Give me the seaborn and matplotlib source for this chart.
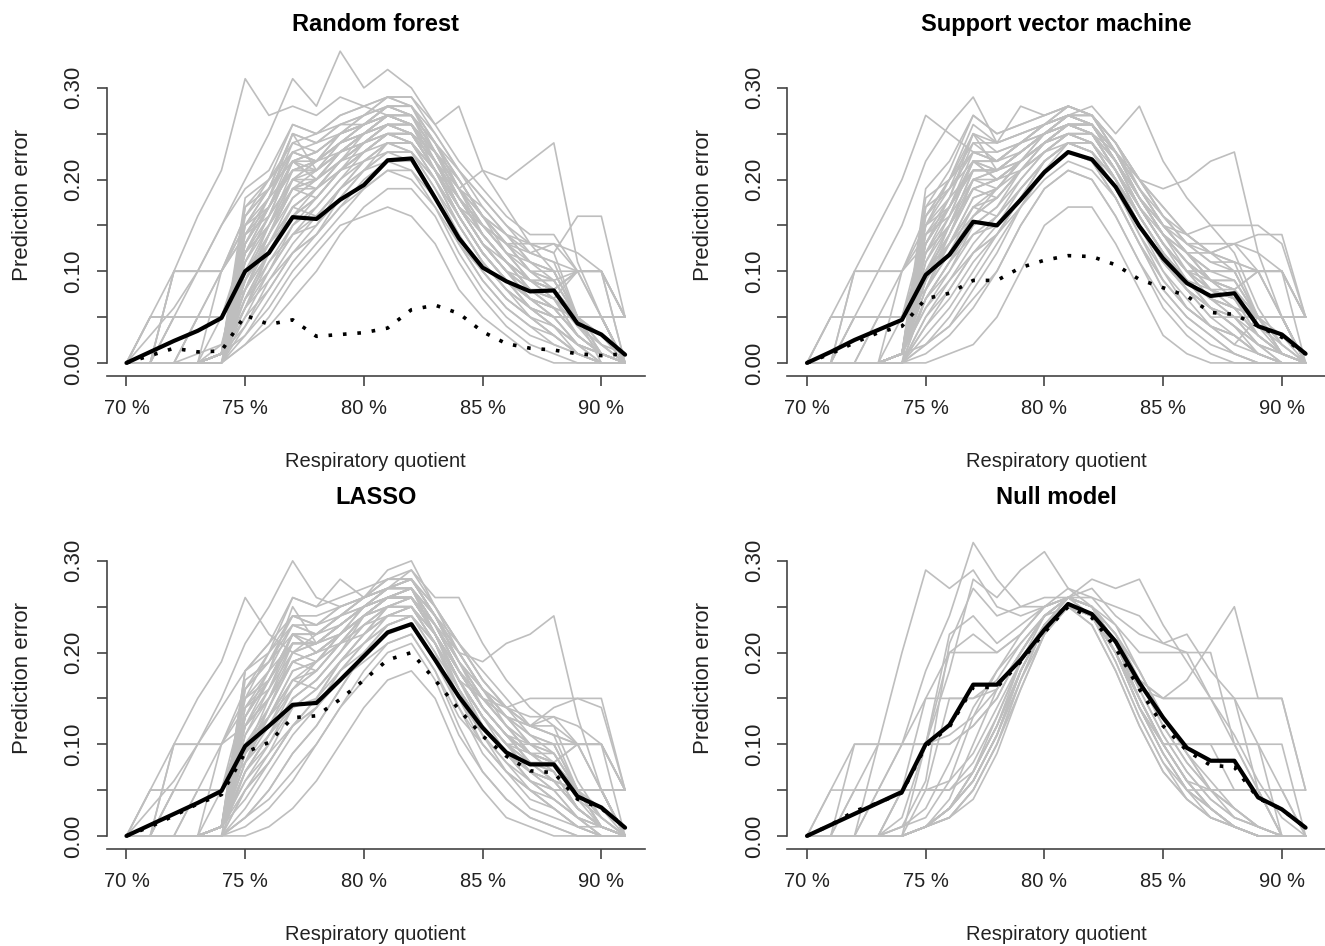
import numpy as np
import pandas as pd
import matplotlib
matplotlib.use("Agg")
import matplotlib.pyplot as plt
import seaborn as sns

# Respiratory quotient grid (%)
RQ = list(range(70, 92))

PANELS = ["Random forest", "Support vector machine", "LASSO", "Null model"]

# Thick black curve per panel
RF_SOLID = [0, 0.012, 0.024, 0.035, 0.049, 0.100, 0.120, 0.159, 0.157, 0.178, 0.194, 0.221, 0.223, 0.180, 0.136, 0.104, 0.089, 0.078, 0.079, 0.043, 0.031, 0.009]
SVM_SOLID = [0, 0.012, 0.025, 0.036, 0.047, 0.096, 0.118, 0.154, 0.150, 0.178, 0.208, 0.230, 0.222, 0.192, 0.149, 0.114, 0.087, 0.073, 0.076, 0.040, 0.031, 0.010]
LASSO_SOLID = [0, 0.012, 0.024, 0.036, 0.049, 0.098, 0.120, 0.143, 0.145, 0.170, 0.196, 0.222, 0.231, 0.192, 0.152, 0.118, 0.091, 0.078, 0.078, 0.043, 0.031, 0.009]
NULL_SOLID = [0, 0.012, 0.024, 0.036, 0.048, 0.100, 0.121, 0.165, 0.165, 0.192, 0.225, 0.253, 0.242, 0.212, 0.167, 0.129, 0.096, 0.082, 0.082, 0.042, 0.029, 0.009]

# Dotted curve per panel
RF_DOTTED = [0, 0.008, 0.016, 0.012, 0.013, 0.052, 0.042, 0.047, 0.029, 0.031, 0.033, 0.038, 0.058, 0.063, 0.054, 0.034, 0.021, 0.016, 0.014, 0.010, 0.008, 0.010]
SVM_DOTTED = [0, 0.010, 0.022, 0.033, 0.040, 0.070, 0.076, 0.090, 0.090, 0.104, 0.112, 0.117, 0.116, 0.107, 0.091, 0.082, 0.073, 0.055, 0.053, 0.040, 0.028, 0.010]
LASSO_DOTTED = [0, 0.010, 0.022, 0.035, 0.045, 0.091, 0.102, 0.129, 0.131, 0.149, 0.170, 0.192, 0.200, 0.170, 0.138, 0.109, 0.087, 0.071, 0.069, 0.040, 0.030, 0.010]
NULL_DOTTED = [0, 0.012, 0.027, 0.036, 0.047, 0.098, 0.119, 0.162, 0.162, 0.190, 0.222, 0.250, 0.238, 0.205, 0.160, 0.120, 0.093, 0.077, 0.075, 0.041, 0.029, 0.009]

# Grey resampling curves, in hundredths of prediction error
RF_GREY = [
    [0, 0, 0, 0, 0, 2, 5, 9, 12, 15, 16, 17, 16, 13, 8, 5, 3, 1, 0, 0, 0, 0],
    [0, 0, 0, 0, 1, 4, 8, 12, 15, 19, 21, 23, 22, 18, 13, 9, 6, 4, 2, 1, 0, 0],
    [0, 0, 0, 0, 1, 6, 11, 15, 18, 21, 23, 25, 24, 20, 15, 11, 8, 5, 3, 1, 0, 0],
    [0, 0, 0, 0, 1, 8, 13, 18, 20, 22, 24, 26, 25, 21, 17, 13, 10, 7, 5, 2, 1, 0],
    [0, 0, 0, 0, 0, 10, 15, 20, 21, 24, 25, 27, 27, 23, 18, 14, 11, 8, 6, 3, 1, 0],
    [0, 0, 0, 1, 2, 12, 16, 22, 22, 24, 26, 28, 28, 24, 19, 15, 12, 9, 8, 5, 2, 1],
    [0, 0, 0, 0, 1, 14, 18, 24, 23, 25, 27, 29, 29, 25, 21, 17, 14, 11, 10, 5, 5, 0],
    [0, 0, 0, 0, 1, 5, 10, 14, 17, 20, 22, 24, 23, 19, 14, 10, 7, 5, 3, 1, 0, 0],
    [0, 0, 0, 0, 1, 7, 12, 17, 19, 22, 24, 26, 26, 21, 16, 12, 9, 6, 4, 2, 1, 0],
    [0, 0, 0, 0, 1, 9, 14, 19, 19, 21, 23, 25, 25, 22, 17, 13, 10, 7, 6, 3, 1, 0],
    [0, 5, 5, 5, 5, 11, 15, 20, 20, 23, 24, 26, 25, 21, 16, 12, 9, 7, 5, 5, 5, 0],
    [0, 0, 10, 10, 10, 15, 19, 25, 24, 26, 26, 28, 27, 22, 17, 13, 10, 8, 7, 10, 10, 0],
    [0, 5, 10, 16, 21, 31, 27, 28, 27, 29, 28, 27, 26, 23, 20, 16, 13, 10, 8, 5, 3, 1],
    [0, 0, 5, 10, 15, 20, 25, 31, 28, 34, 30, 32, 30, 26, 28, 21, 17, 13, 10, 5, 2, 0],
    [0, 0, 0, 0, 2, 8, 14, 19, 20, 23, 25, 27, 27, 23, 19, 21, 20, 22, 24, 11, 5, 0],
    [0, 0, 0, 0, 1, 6, 12, 17, 19, 22, 24, 26, 26, 22, 18, 15, 13, 13, 12, 16, 16, 5],
    [0, 0, 0, 0, 1, 7, 12, 16, 18, 21, 23, 25, 25, 21, 17, 13, 11, 9, 8, 10, 10, 5],
    [0, 5, 5, 5, 5, 9, 13, 17, 19, 22, 24, 26, 25, 21, 16, 12, 9, 6, 4, 1, 0, 0],
    [0, 0, 10, 10, 10, 14, 18, 23, 22, 25, 26, 27, 26, 22, 17, 13, 10, 7, 5, 2, 1, 0],
    [0, 3, 6, 10, 15, 19, 21, 26, 25, 27, 28, 29, 28, 23, 19, 15, 12, 9, 7, 4, 2, 0],
    [0, 0, 5, 5, 5, 10, 14, 19, 21, 23, 25, 27, 26, 22, 18, 14, 11, 9, 9, 10, 10, 5],
    [0, 0, 0, 5, 5, 8, 12, 16, 18, 21, 23, 25, 24, 20, 15, 11, 8, 6, 5, 5, 5, 5],
    [0, 0, 0, 0, 5, 12, 17, 21, 22, 25, 26, 28, 27, 23, 18, 14, 11, 8, 6, 3, 1, 0],
    [0, 0, 0, 0, 0, 3, 7, 11, 14, 17, 20, 22, 21, 17, 12, 8, 5, 3, 2, 1, 0, 0],
    [0, 0, 0, 0, 1, 11, 16, 20, 22, 24, 26, 27, 27, 24, 20, 16, 13, 10, 9, 5, 5, 5],
    [0, 0, 0, 0, 1, 13, 17, 23, 22, 24, 25, 27, 26, 22, 18, 15, 12, 11, 10, 10, 10, 5],
    [0, 0, 0, 0, 0, 4, 9, 13, 16, 19, 22, 23, 23, 19, 15, 11, 8, 6, 4, 2, 1, 0],
    [0, 0, 0, 0, 1, 15, 19, 25, 24, 26, 27, 28, 28, 25, 21, 18, 15, 13, 12, 5, 5, 0],
    [0, 0, 0, 0, 0, 6, 10, 15, 17, 20, 23, 25, 24, 21, 16, 12, 9, 6, 5, 5, 5, 0],
    [0, 0, 0, 0, 1, 17, 20, 26, 25, 27, 28, 29, 29, 26, 22, 19, 16, 14, 14, 10, 5, 0],
    [0, 0, 0, 0, 0, 8, 12, 16, 18, 21, 24, 25, 25, 22, 17, 14, 11, 9, 8, 5, 0, 0],
    [0, 0, 0, 5, 10, 16, 19, 22, 23, 25, 26, 27, 26, 22, 18, 14, 11, 8, 7, 5, 5, 0],
    [0, 0, 0, 0, 1, 3, 6, 10, 13, 16, 19, 21, 21, 18, 13, 9, 6, 4, 3, 1, 0, 0],
    [0, 0, 0, 0, 1, 9, 14, 18, 20, 23, 25, 26, 25, 22, 19, 17, 14, 11, 9, 5, 1, 0],
    [0, 0, 0, 0, 1, 10, 13, 17, 16, 19, 21, 24, 24, 21, 16, 12, 9, 6, 5, 2, 0, 0],
    [0, 0, 0, 0, 0, 7, 11, 14, 15, 18, 21, 22, 22, 18, 14, 10, 7, 5, 3, 1, 0, 0],
    [0, 0, 0, 0, 1, 12, 15, 19, 18, 21, 23, 25, 24, 21, 18, 14, 11, 9, 8, 4, 2, 0],
    [0, 0, 0, 0, 1, 15, 17, 21, 21, 23, 25, 26, 26, 23, 20, 16, 13, 10, 9, 5, 3, 0],
    [0, 0, 0, 0, 1, 18, 20, 23, 22, 24, 26, 28, 27, 24, 21, 18, 15, 12, 11, 5, 5, 0],
    [0, 0, 0, 0, 0, 13, 17, 22, 20, 22, 23, 24, 24, 21, 17, 13, 10, 8, 7, 3, 1, 0],
    [0, 0, 0, 0, 1, 16, 19, 23, 24, 25, 26, 27, 26, 22, 17, 13, 10, 8, 8, 5, 1, 0],
    [0, 0, 0, 0, 1, 9, 15, 21, 22, 24, 25, 26, 25, 21, 17, 15, 13, 12, 13, 10, 10, 0],
    [0, 0, 0, 0, 1, 11, 16, 22, 20, 23, 25, 27, 26, 22, 18, 15, 12, 10, 10, 5, 5, 5],
    [0, 0, 0, 0, 1, 6, 9, 12, 14, 17, 19, 21, 20, 17, 13, 10, 7, 5, 4, 2, 0, 0],
    [0, 0, 0, 0, 0, 2, 4, 7, 10, 14, 17, 19, 19, 16, 11, 7, 4, 2, 1, 0, 0, 0],
    [0, 0, 0, 0, 1, 8, 14, 20, 22, 23, 24, 25, 25, 23, 19, 16, 14, 12, 11, 10, 5, 0],
    [0, 5, 5, 5, 5, 13, 17, 22, 21, 24, 26, 27, 26, 22, 17, 13, 10, 9, 9, 5, 5, 0],
    [0, 0, 10, 10, 10, 16, 20, 24, 25, 26, 27, 29, 28, 24, 19, 14, 11, 9, 8, 10, 10, 5],
    [0, 0, 0, 5, 5, 12, 15, 19, 20, 22, 24, 25, 25, 21, 17, 13, 10, 8, 6, 5, 5, 0],
    [0, 0, 0, 0, 10, 14, 17, 21, 21, 23, 25, 27, 27, 24, 20, 16, 12, 9, 7, 3, 1, 0],
    [0, 0, 0, 0, 1, 10, 13, 16, 19, 22, 25, 27, 26, 23, 19, 15, 13, 11, 10, 5, 1, 0],
    [0, 0, 0, 0, 1, 14, 16, 20, 19, 21, 22, 24, 23, 20, 16, 12, 9, 7, 6, 3, 1, 0],
    [0, 0, 0, 0, 0, 5, 8, 12, 14, 18, 21, 23, 23, 20, 16, 12, 9, 7, 6, 5, 5, 0],
    [0, 0, 0, 0, 1, 12, 17, 22, 23, 25, 27, 28, 27, 23, 19, 16, 14, 13, 13, 12, 10, 5],
    [0, 0, 0, 0, 1, 17, 19, 22, 23, 25, 26, 28, 28, 24, 20, 16, 13, 10, 8, 4, 1, 0],
    [0, 0, 0, 0, 1, 7, 10, 14, 16, 19, 22, 24, 24, 20, 15, 11, 8, 6, 4, 2, 1, 0],
    [0, 0, 5, 5, 10, 15, 18, 21, 22, 24, 25, 26, 26, 23, 18, 14, 11, 9, 8, 10, 10, 5],
    [0, 0, 0, 0, 1, 13, 18, 25, 21, 23, 24, 26, 25, 21, 16, 12, 9, 7, 6, 3, 1, 0],
]

SVM_GREY = [
    [0, 0, 0, 0, 0, 0, 1, 2, 5, 10, 15, 17, 17, 13, 8, 3, 1, 0, 0, 0, 0, 0],
    [0, 0, 0, 0, 0, 1, 3, 6, 10, 15, 19, 21, 20, 16, 11, 6, 3, 1, 0, 0, 0, 0],
    [0, 0, 0, 0, 0, 2, 5, 9, 13, 17, 21, 23, 22, 18, 13, 8, 5, 3, 1, 0, 0, 0],
    [0, 0, 0, 0, 0, 4, 8, 12, 15, 19, 22, 24, 23, 19, 14, 10, 6, 4, 2, 1, 0, 0],
    [0, 0, 0, 0, 1, 6, 10, 15, 17, 20, 23, 25, 24, 20, 15, 11, 8, 5, 3, 1, 0, 0],
    [0, 0, 0, 0, 1, 8, 12, 17, 18, 21, 24, 26, 25, 21, 16, 12, 9, 6, 4, 2, 1, 0],
    [0, 0, 0, 0, 1, 10, 14, 20, 20, 22, 25, 27, 26, 22, 17, 13, 10, 7, 6, 3, 1, 0],
    [0, 0, 0, 0, 1, 12, 16, 22, 21, 23, 25, 27, 26, 23, 18, 14, 11, 8, 7, 5, 1, 0],
    [0, 0, 0, 0, 1, 14, 18, 24, 22, 24, 26, 27, 27, 24, 19, 15, 12, 9, 9, 5, 5, 0],
    [0, 0, 0, 0, 1, 16, 20, 26, 24, 25, 26, 28, 27, 24, 20, 16, 13, 11, 11, 10, 5, 0],
    [0, 0, 0, 0, 0, 5, 9, 13, 16, 20, 23, 25, 24, 20, 15, 10, 7, 4, 3, 1, 0, 0],
    [0, 0, 0, 0, 0, 7, 11, 16, 18, 21, 24, 26, 25, 21, 16, 12, 8, 6, 4, 2, 0, 0],
    [0, 0, 0, 0, 1, 9, 13, 18, 19, 22, 24, 26, 25, 22, 17, 13, 9, 7, 5, 5, 5, 0],
    [0, 0, 0, 0, 1, 11, 15, 21, 21, 23, 25, 26, 26, 23, 18, 14, 10, 8, 7, 5, 5, 5],
    [0, 5, 5, 5, 5, 10, 14, 19, 20, 22, 24, 26, 25, 21, 16, 12, 9, 6, 5, 5, 5, 0],
    [0, 0, 10, 10, 10, 13, 17, 22, 22, 24, 25, 27, 26, 22, 17, 13, 10, 10, 10, 10, 10, 5],
    [0, 5, 10, 15, 20, 27, 25, 23, 22, 24, 26, 27, 26, 22, 17, 13, 10, 7, 5, 2, 1, 0],
    [0, 0, 5, 10, 15, 22, 26, 29, 24, 25, 26, 28, 27, 23, 18, 14, 11, 8, 6, 3, 1, 0],
    [0, 0, 0, 0, 5, 15, 20, 25, 24, 28, 27, 28, 27, 24, 20, 17, 14, 12, 10, 5, 2, 0],
    [0, 0, 0, 0, 1, 10, 15, 20, 21, 23, 25, 27, 28, 25, 28, 22, 18, 15, 12, 6, 2, 0],
    [0, 0, 0, 0, 1, 8, 13, 18, 19, 22, 24, 26, 26, 23, 20, 19, 20, 22, 23, 12, 5, 0],
    [0, 0, 0, 0, 1, 9, 14, 19, 20, 22, 24, 26, 25, 22, 18, 15, 14, 15, 15, 15, 13, 5],
    [0, 0, 0, 5, 5, 9, 13, 17, 19, 22, 24, 26, 25, 21, 17, 13, 10, 10, 10, 10, 10, 5],
    [0, 0, 5, 5, 5, 8, 12, 16, 18, 21, 23, 25, 24, 20, 15, 11, 8, 5, 5, 5, 5, 5],
    [0, 0, 0, 0, 0, 3, 6, 10, 14, 18, 22, 24, 23, 19, 14, 9, 6, 4, 2, 5, 5, 0],
    [0, 0, 0, 0, 1, 13, 17, 23, 22, 24, 26, 27, 26, 22, 18, 14, 11, 9, 8, 5, 1, 0],
    [0, 0, 0, 0, 1, 15, 19, 25, 23, 24, 26, 28, 27, 23, 19, 15, 12, 10, 10, 10, 5, 0],
    [0, 0, 0, 0, 1, 17, 21, 27, 25, 26, 27, 28, 27, 24, 20, 16, 13, 11, 10, 5, 1, 0],
    [0, 0, 0, 0, 0, 4, 7, 11, 14, 18, 22, 24, 23, 20, 16, 12, 9, 6, 4, 1, 0, 0],
    [0, 0, 0, 0, 1, 7, 11, 15, 17, 21, 24, 25, 25, 22, 18, 14, 11, 8, 7, 3, 1, 0],
    [0, 0, 0, 0, 1, 2, 4, 8, 12, 17, 21, 23, 22, 18, 13, 8, 5, 3, 1, 0, 0, 0],
    [0, 0, 0, 0, 1, 19, 22, 27, 25, 26, 27, 28, 27, 24, 20, 16, 13, 12, 13, 14, 14, 5],
    [0, 0, 0, 0, 1, 10, 13, 17, 16, 19, 22, 24, 24, 20, 15, 11, 8, 6, 5, 2, 0, 0],
    [0, 0, 0, 0, 0, 7, 11, 14, 15, 18, 21, 23, 22, 18, 13, 9, 6, 4, 3, 1, 0, 0],
    [0, 0, 0, 0, 1, 12, 15, 19, 18, 21, 23, 25, 24, 21, 17, 13, 10, 8, 7, 4, 2, 0],
    [0, 0, 0, 0, 1, 15, 17, 21, 21, 23, 25, 26, 26, 23, 19, 15, 12, 9, 8, 5, 3, 0],
    [0, 0, 0, 0, 1, 18, 20, 23, 22, 23, 25, 27, 26, 23, 20, 17, 14, 12, 11, 5, 5, 0],
    [0, 0, 0, 0, 0, 13, 17, 22, 20, 21, 23, 25, 24, 20, 16, 12, 9, 7, 6, 3, 1, 0],
    [0, 0, 0, 0, 1, 16, 19, 23, 23, 24, 25, 26, 25, 21, 16, 12, 9, 8, 8, 5, 1, 0],
    [0, 0, 0, 0, 1, 9, 15, 21, 21, 23, 25, 26, 25, 21, 17, 14, 12, 12, 13, 10, 10, 0],
    [0, 0, 0, 0, 1, 11, 16, 22, 20, 22, 24, 26, 26, 22, 18, 15, 12, 10, 10, 5, 5, 5],
    [0, 0, 0, 0, 1, 6, 9, 12, 14, 17, 20, 22, 21, 18, 13, 9, 6, 4, 3, 1, 0, 0],
    [0, 0, 0, 0, 0, 2, 4, 7, 10, 15, 19, 21, 20, 16, 11, 7, 4, 2, 1, 0, 0, 0],
    [0, 0, 0, 0, 1, 8, 14, 20, 21, 22, 24, 25, 25, 23, 19, 16, 14, 12, 11, 10, 5, 0],
    [0, 5, 5, 5, 5, 13, 17, 22, 21, 23, 25, 27, 26, 22, 17, 13, 10, 9, 9, 5, 5, 0],
    [0, 0, 10, 10, 10, 16, 20, 24, 24, 25, 26, 27, 27, 23, 18, 14, 11, 9, 8, 10, 10, 5],
    [0, 0, 0, 5, 5, 12, 15, 19, 20, 22, 24, 25, 25, 21, 17, 13, 10, 8, 6, 5, 5, 0],
    [0, 0, 0, 0, 10, 14, 17, 21, 21, 23, 25, 27, 26, 23, 19, 15, 12, 9, 7, 3, 1, 0],
    [0, 0, 0, 0, 1, 10, 13, 16, 19, 22, 25, 26, 26, 22, 18, 14, 12, 10, 9, 5, 1, 0],
    [0, 0, 0, 0, 1, 14, 16, 20, 19, 21, 23, 24, 23, 20, 15, 11, 8, 6, 5, 3, 1, 0],
    [0, 0, 0, 0, 0, 5, 8, 12, 14, 18, 21, 24, 23, 20, 16, 12, 9, 7, 6, 5, 5, 0],
    [0, 0, 0, 0, 1, 12, 17, 22, 22, 24, 26, 27, 26, 22, 18, 15, 13, 13, 13, 12, 10, 5],
    [0, 0, 0, 0, 1, 17, 19, 22, 22, 24, 26, 27, 27, 23, 19, 15, 12, 9, 7, 4, 1, 0],
    [0, 0, 0, 0, 1, 7, 10, 14, 16, 19, 22, 24, 24, 20, 15, 11, 8, 6, 4, 2, 1, 0],
    [0, 0, 5, 5, 10, 15, 18, 21, 21, 23, 25, 26, 26, 22, 18, 14, 11, 9, 8, 10, 10, 5],
    [0, 0, 0, 0, 1, 13, 18, 25, 21, 22, 24, 26, 25, 21, 16, 12, 9, 7, 6, 3, 1, 0],
]

LASSO_GREY = [
    [0, 0, 0, 0, 0, 0, 1, 3, 6, 10, 14, 17, 18, 15, 9, 5, 2, 1, 0, 0, 0, 0],
    [0, 0, 0, 0, 0, 1, 3, 6, 10, 14, 18, 21, 22, 18, 12, 7, 4, 2, 1, 0, 0, 0],
    [0, 0, 0, 0, 0, 2, 5, 9, 12, 16, 20, 23, 24, 20, 14, 9, 6, 3, 2, 1, 0, 0],
    [0, 0, 0, 0, 1, 4, 8, 12, 15, 19, 22, 25, 25, 21, 16, 11, 8, 5, 3, 1, 0, 0],
    [0, 0, 0, 0, 1, 6, 10, 15, 17, 20, 23, 25, 26, 22, 17, 13, 9, 6, 4, 2, 1, 0],
    [0, 0, 0, 0, 1, 8, 12, 17, 18, 21, 24, 26, 27, 23, 18, 14, 11, 8, 6, 3, 1, 0],
    [0, 0, 0, 0, 1, 10, 14, 19, 20, 22, 25, 27, 27, 24, 19, 15, 12, 9, 8, 5, 1, 0],
    [0, 0, 0, 0, 1, 12, 16, 21, 21, 23, 25, 27, 28, 24, 20, 16, 13, 11, 10, 5, 5, 0],
    [0, 0, 0, 0, 1, 14, 18, 23, 22, 24, 26, 28, 28, 25, 21, 17, 14, 12, 12, 10, 5, 0],
    [0, 0, 0, 0, 0, 3, 7, 11, 14, 18, 21, 24, 25, 21, 15, 10, 7, 4, 3, 1, 0, 0],
    [0, 0, 0, 0, 0, 5, 9, 14, 16, 19, 22, 25, 25, 22, 17, 12, 9, 6, 4, 2, 0, 0],
    [0, 0, 0, 0, 1, 7, 11, 16, 18, 21, 24, 26, 26, 22, 17, 13, 10, 7, 6, 5, 5, 0],
    [0, 0, 0, 0, 1, 9, 13, 18, 19, 22, 24, 26, 27, 23, 18, 14, 11, 9, 8, 5, 5, 5],
    [0, 5, 5, 5, 5, 9, 13, 17, 19, 21, 24, 26, 26, 22, 17, 13, 10, 7, 5, 5, 5, 0],
    [0, 0, 10, 10, 10, 12, 15, 19, 20, 22, 24, 26, 26, 22, 18, 14, 11, 10, 10, 10, 10, 5],
    [0, 5, 10, 15, 19, 26, 22, 20, 22, 24, 25, 27, 27, 23, 18, 14, 11, 8, 6, 3, 1, 0],
    [0, 0, 5, 10, 15, 21, 25, 30, 26, 25, 26, 27, 28, 24, 19, 15, 12, 9, 7, 3, 1, 0],
    [0, 0, 0, 0, 5, 15, 20, 26, 25, 28, 26, 29, 30, 25, 21, 17, 14, 11, 9, 5, 2, 0],
    [0, 0, 0, 0, 1, 11, 15, 20, 21, 23, 25, 27, 29, 26, 26, 21, 17, 14, 12, 6, 2, 0],
    [0, 0, 0, 0, 1, 8, 13, 18, 19, 22, 24, 26, 26, 23, 20, 19, 21, 22, 24, 13, 5, 0],
    [0, 0, 0, 0, 1, 9, 14, 19, 20, 22, 24, 26, 26, 22, 18, 15, 14, 15, 15, 15, 15, 5],
    [0, 0, 0, 5, 5, 9, 12, 16, 18, 21, 24, 26, 26, 22, 17, 13, 10, 10, 10, 10, 10, 5],
    [0, 0, 5, 5, 5, 8, 11, 15, 17, 20, 23, 25, 25, 21, 16, 12, 9, 6, 5, 5, 5, 5],
    [0, 0, 0, 0, 0, 2, 5, 9, 12, 16, 20, 23, 24, 21, 16, 11, 7, 5, 3, 1, 1, 0],
    [0, 0, 0, 0, 1, 13, 17, 22, 22, 24, 26, 27, 28, 24, 19, 15, 12, 10, 9, 5, 1, 0],
    [0, 0, 0, 0, 1, 16, 19, 24, 23, 25, 26, 28, 28, 25, 20, 16, 13, 12, 11, 10, 5, 0],
    [0, 0, 0, 0, 1, 5, 8, 12, 15, 19, 22, 24, 25, 22, 17, 13, 10, 7, 5, 2, 1, 0],
    [0, 0, 0, 0, 1, 7, 11, 15, 17, 20, 24, 25, 26, 23, 18, 14, 11, 8, 7, 3, 1, 0],
    [0, 3, 6, 10, 14, 18, 21, 24, 23, 25, 26, 27, 27, 23, 18, 14, 11, 9, 8, 5, 2, 0],
    [0, 0, 0, 0, 1, 18, 21, 26, 25, 26, 27, 28, 29, 25, 21, 17, 14, 12, 14, 15, 14, 5],
    [0, 0, 0, 0, 1, 10, 13, 17, 16, 19, 21, 23, 24, 21, 16, 12, 9, 6, 5, 2, 0, 0],
    [0, 0, 0, 0, 0, 7, 11, 14, 15, 18, 20, 22, 23, 19, 14, 10, 7, 5, 3, 1, 0, 0],
    [0, 0, 0, 0, 1, 12, 15, 19, 18, 21, 23, 25, 25, 22, 18, 14, 11, 9, 8, 4, 2, 0],
    [0, 0, 0, 0, 1, 15, 17, 21, 21, 23, 25, 26, 27, 24, 20, 16, 13, 10, 9, 5, 3, 0],
    [0, 0, 0, 0, 1, 18, 20, 23, 22, 23, 25, 27, 28, 24, 21, 18, 15, 12, 11, 5, 5, 0],
    [0, 0, 0, 0, 0, 13, 17, 22, 20, 21, 23, 24, 25, 21, 17, 13, 10, 8, 7, 3, 1, 0],
    [0, 0, 0, 0, 1, 16, 19, 23, 23, 24, 25, 26, 27, 22, 17, 13, 10, 8, 8, 5, 1, 0],
    [0, 0, 0, 0, 1, 9, 15, 21, 21, 23, 25, 26, 26, 22, 17, 15, 13, 12, 13, 10, 10, 0],
    [0, 0, 0, 0, 1, 11, 16, 22, 20, 22, 24, 26, 27, 22, 18, 15, 12, 10, 10, 5, 5, 5],
    [0, 0, 0, 0, 1, 6, 9, 12, 14, 17, 19, 21, 22, 18, 13, 10, 7, 5, 4, 2, 0, 0],
    [0, 0, 0, 0, 0, 2, 4, 7, 10, 14, 17, 20, 21, 17, 11, 7, 4, 2, 1, 0, 0, 0],
    [0, 0, 0, 0, 1, 8, 14, 20, 21, 22, 24, 25, 26, 23, 19, 16, 14, 12, 11, 10, 5, 0],
    [0, 5, 5, 5, 5, 13, 17, 22, 21, 23, 25, 27, 27, 22, 17, 13, 10, 9, 9, 5, 5, 0],
    [0, 0, 10, 10, 10, 16, 20, 24, 24, 25, 26, 28, 28, 24, 19, 14, 11, 9, 8, 10, 10, 5],
    [0, 0, 0, 5, 5, 12, 15, 19, 20, 22, 24, 25, 26, 22, 17, 13, 10, 8, 6, 5, 5, 0],
    [0, 0, 0, 0, 10, 14, 17, 21, 21, 23, 25, 27, 27, 24, 20, 16, 12, 9, 7, 3, 1, 0],
    [0, 0, 0, 0, 1, 10, 13, 16, 19, 22, 25, 26, 27, 23, 19, 15, 13, 11, 10, 5, 1, 0],
    [0, 0, 0, 0, 1, 14, 16, 20, 19, 21, 22, 24, 24, 20, 16, 12, 9, 7, 6, 3, 1, 0],
    [0, 0, 0, 0, 0, 5, 8, 12, 14, 18, 21, 23, 24, 21, 16, 12, 9, 7, 6, 5, 5, 0],
    [0, 0, 0, 0, 1, 12, 17, 22, 22, 24, 26, 27, 28, 24, 19, 16, 14, 13, 13, 12, 10, 5],
    [0, 0, 0, 0, 1, 17, 19, 22, 22, 24, 26, 27, 28, 24, 20, 16, 13, 10, 8, 4, 1, 0],
    [0, 0, 0, 0, 1, 7, 10, 14, 16, 19, 22, 24, 25, 21, 15, 11, 8, 6, 4, 2, 1, 0],
    [0, 0, 5, 5, 10, 15, 18, 21, 21, 23, 25, 26, 27, 23, 18, 14, 11, 9, 8, 10, 10, 5],
    [0, 0, 0, 0, 1, 13, 18, 25, 21, 22, 24, 26, 26, 22, 16, 12, 9, 7, 6, 3, 1, 0],
]

NULL_GREY = [
    [0, 0, 0, 0, 0, 1, 2, 4, 9, 16, 22, 25, 24, 19, 13, 8, 4, 2, 1, 0, 0, 0],
    [0, 0, 0, 0, 0, 1, 3, 6, 11, 18, 23, 25, 23, 18, 12, 7, 4, 2, 1, 0, 0, 0],
    [0, 0, 0, 0, 0, 1, 3, 7, 13, 19, 23, 25, 24, 20, 14, 9, 5, 3, 1, 0, 0, 0],
    [0, 0, 0, 0, 0, 1, 2, 5, 10, 17, 23, 26, 25, 21, 15, 10, 6, 3, 1, 0, 0, 0],
    [0, 0, 0, 0, 0, 1, 4, 10, 16, 20, 24, 26, 25, 22, 17, 12, 8, 5, 2, 1, 0, 0],
    [0, 0, 0, 0, 1, 2, 6, 13, 18, 22, 25, 27, 26, 23, 18, 13, 9, 6, 3, 1, 0, 0],
    [0, 5, 5, 5, 5, 5, 6, 9, 14, 19, 23, 25, 24, 20, 14, 9, 5, 3, 1, 0, 0, 0],
    [0, 0, 10, 10, 10, 10, 10, 12, 15, 20, 24, 26, 24, 20, 14, 9, 5, 3, 1, 0, 0, 0],
    [0, 0, 0, 5, 10, 15, 15, 15, 17, 21, 24, 26, 25, 21, 15, 10, 6, 3, 1, 0, 0, 0],
    [0, 0, 0, 0, 5, 15, 20, 20, 20, 22, 25, 26, 25, 21, 16, 11, 7, 4, 2, 1, 0, 0],
    [0, 0, 0, 0, 2, 10, 22, 24, 21, 23, 25, 26, 25, 22, 18, 13, 9, 5, 3, 1, 0, 0],
    [0, 0, 5, 10, 20, 29, 27, 29, 25, 24, 25, 26, 24, 20, 15, 10, 6, 3, 1, 0, 0, 0],
    [0, 0, 0, 5, 10, 18, 24, 32, 28, 25, 26, 26, 25, 21, 15, 10, 6, 3, 1, 0, 0, 0],
    [0, 0, 0, 0, 5, 10, 18, 28, 26, 29, 31, 27, 25, 21, 15, 10, 6, 3, 1, 0, 0, 0],
    [0, 0, 0, 0, 0, 1, 3, 6, 11, 18, 23, 25, 24, 19, 13, 8, 5, 5, 5, 5, 5, 5],
    [0, 0, 0, 0, 0, 1, 3, 6, 11, 17, 23, 25, 24, 20, 14, 10, 10, 10, 10, 10, 10, 0],
    [0, 0, 0, 0, 0, 1, 3, 7, 12, 18, 23, 25, 24, 21, 17, 15, 15, 15, 15, 15, 15, 5],
    [0, 0, 0, 0, 0, 1, 3, 7, 12, 18, 23, 26, 27, 24, 22, 21, 22, 18, 15, 10, 5, 0],
    [0, 0, 0, 0, 0, 1, 3, 6, 11, 18, 23, 26, 28, 27, 28, 23, 19, 15, 11, 6, 2, 0],
    [0, 0, 0, 0, 0, 1, 3, 6, 11, 18, 23, 25, 24, 21, 17, 15, 17, 21, 25, 15, 15, 5],
    [0, 0, 0, 0, 0, 1, 2, 5, 10, 16, 22, 25, 23, 18, 12, 7, 4, 2, 1, 0, 0, 0],
    [0, 5, 10, 10, 10, 10, 11, 13, 16, 20, 24, 25, 24, 20, 14, 10, 10, 10, 5, 5, 0, 0],
    [0, 0, 0, 0, 0, 1, 2, 5, 10, 17, 22, 25, 24, 20, 14, 9, 5, 2, 1, 0, 0, 0],
    [0, 0, 0, 0, 1, 3, 8, 14, 18, 21, 24, 26, 25, 22, 17, 12, 8, 5, 3, 1, 0, 0],
    [0, 0, 5, 5, 5, 5, 5, 7, 12, 18, 23, 25, 24, 20, 15, 10, 6, 5, 5, 5, 5, 0],
    [0, 0, 0, 0, 5, 5, 5, 8, 13, 19, 23, 25, 24, 21, 16, 11, 7, 4, 2, 1, 0, 0],
    [0, 0, 0, 10, 10, 10, 10, 12, 15, 20, 24, 26, 25, 20, 15, 10, 10, 10, 10, 10, 0, 0],
    [0, 0, 0, 0, 0, 5, 15, 15, 16, 20, 24, 26, 25, 21, 16, 15, 15, 15, 15, 5, 0, 0],
    [0, 0, 0, 0, 0, 10, 20, 22, 20, 22, 25, 26, 25, 23, 20, 20, 20, 20, 10, 5, 0, 0],
    [0, 0, 0, 0, 0, 1, 3, 7, 12, 19, 24, 26, 26, 25, 24, 21, 20, 15, 10, 5, 0, 0],
    [0, 0, 0, 0, 1, 6, 21, 27, 24, 25, 25, 26, 25, 22, 18, 13, 9, 5, 3, 1, 0, 0],
]

SOLID = [RF_SOLID, SVM_SOLID, LASSO_SOLID, NULL_SOLID]
DOTTED = [RF_DOTTED, SVM_DOTTED, LASSO_DOTTED, NULL_DOTTED]
GREY = [RF_GREY, SVM_GREY, LASSO_GREY, NULL_GREY]

sns.set_style("white")
plt.rcParams["font.family"] = ["Liberation Sans", "DejaVu Sans"]

TXT = "#222222"
AXC = "#444444"

fig = plt.figure(figsize=(13.25, 9.46), dpi=100)

# axes boxes in figure fraction (left, bottom, width, height)
boxes = [
    (0.0804, 0.603, 0.4064, 0.3611),
    (0.5940, 0.603, 0.4064, 0.3611),
    (0.0804, 0.103, 0.4064, 0.3611),
    (0.5940, 0.103, 0.4064, 0.3611),
]

for i, name in enumerate(PANELS):
    ax = fig.add_axes(boxes[i])

    rows = []
    for k, curve in enumerate(GREY[i]):
        for x, v in zip(RQ, curve):
            rows.append({"rq": x, "err": v / 100, "run": k})
    grey_df = pd.DataFrame(rows)

    sns.lineplot(data=grey_df, x="rq", y="err", units="run", estimator=None,
                 color="#BEBEBE", linewidth=1.2, ax=ax, legend=False)

    line_df = pd.DataFrame({"rq": RQ, "solid": SOLID[i], "dotted": DOTTED[i]})
    sns.lineplot(data=line_df, x="rq", y="dotted", color="black", linewidth=2.6,
                 linestyle=(0, (1, 3)), ax=ax)
    sns.lineplot(data=line_df, x="rq", y="solid", color="black", linewidth=3.0, ax=ax)

    ax.set_xlim(69.16, 91.84)
    ax.set_ylim(-0.0138, 0.3588)

    ax.set_xticks([70, 75, 80, 85, 90])
    ax.set_xticklabels(["70 %", "75 %", "80 %", "85 %", "90 %"])
    ax.set_yticks([0, 0.05, 0.10, 0.15, 0.20, 0.25, 0.30])
    ax.set_yticklabels(["0.00", "", "0.10", "", "0.20", "", "0.30"])

    ax.tick_params(axis="x", length=7, width=1.2, color=AXC, labelsize=14.5,
                   labelcolor=TXT, pad=10, direction="out", bottom=True)
    ax.tick_params(axis="y", length=7, width=1.2, color=AXC, labelsize=16,
                   labelcolor=TXT, pad=9, direction="out", left=True,
                   labelrotation=90)
    for lab in ax.get_yticklabels():
        lab.set_verticalalignment("center")

    for side in ["top", "right"]:
        ax.spines[side].set_visible(False)
    ax.spines["left"].set_bounds(0, 0.30)
    ax.spines["left"].set_color(AXC)
    ax.spines["bottom"].set_color(AXC)
    ax.spines["left"].set_linewidth(1.2)
    ax.spines["bottom"].set_linewidth(1.2)

    ax.set_xlabel("")
    ax.set_ylabel("")
    ax.text(0.5, 1.027, name, transform=ax.transAxes, ha="center", va="center",
            fontsize=17, fontweight="bold", color="black")
    ax.text(0.5, -0.253, "Respiratory quotient", transform=ax.transAxes,
            ha="center", va="center", fontsize=14.5, color=TXT)
    ax.text(-0.156, 0.5, "Prediction error", transform=ax.transAxes,
            ha="center", va="center", rotation=90, fontsize=16, color=TXT)

fig.savefig("out.png", dpi=100)
